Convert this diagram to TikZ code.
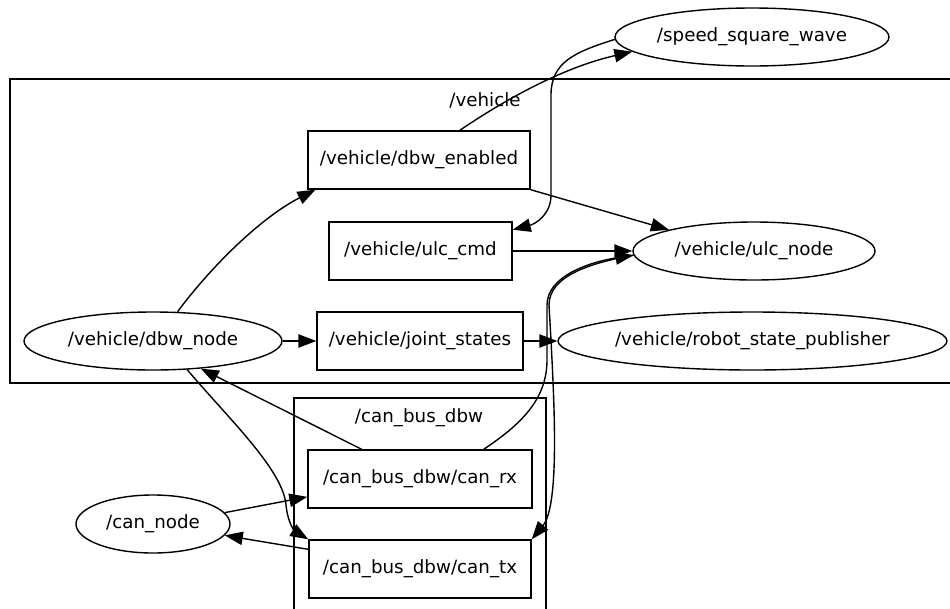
\documentclass[tikz,border=0pt]{standalone}
\usepackage{fontspec}
\setmainfont{DejaVu Sans}
\usetikzlibrary{arrows.meta,shapes.geometric}
\begin{document}
\begin{tikzpicture}[x=0.75pt,y=-0.75pt,
  every node/.style={font=\fontsize{13.7}{16}\selectfont, inner sep=0pt},
  topic/.style={draw, line width=1.05pt, rectangle, minimum height=43.5pt},
  proc/.style={draw, line width=1.05pt, ellipse, minimum height=43.5pt},
  cluster/.style={draw, line width=1.05pt},
  arr/.style={line width=1.05pt, -{Triangle[length=13.5pt,width=10pt]}}
]
\useasboundingbox (0,0) rectangle (950,608);
% clusters
\draw[cluster] (10,79) rectangle (960,383);
\node (vlabel) at (485,100) {/vehicle};
\draw[cluster] (294,398) rectangle (546,625);
\node (clabel) at (419,418) {/can\_bus\_dbw};
% nodes
\node[proc, minimum width=205.5pt] (speed) at (752,37) {/speed\_square\_wave};
\node[topic, minimum width=166.5pt] (dbwen) at (419,160) {/vehicle/dbw\_enabled};
\node[topic, minimum width=137.25pt] (ulccmd) at (420.5,251) {/vehicle/ulc\_cmd};
\node[proc, minimum width=181.5pt] (ulcnode) at (754,251) {/vehicle/ulc\_node};
\node[proc, minimum width=193.5pt] (dbwnode) at (153,341) {/vehicle/dbw\_node};
\node[topic, minimum width=154.5pt] (joint) at (420,341) {/vehicle/joint\_states};
\node[proc, minimum width=291.75pt] (rsp) at (752.5,341) {/vehicle/robot\_state\_publisher};
\node[topic, minimum width=168pt] (canrx) at (420,479) {/can\_bus\_dbw/can\_rx};
\node[topic, minimum width=166.5pt] (cantx) at (420,569) {/can\_bus\_dbw/can\_tx};
\node[proc, minimum width=115.5pt] (cannode) at (153,524) {/can\_node};
% edges
\draw[arr] (dbwen.36.6) .. controls (500,103) and (560,68) .. (speed.187.5);
\draw[arr] (speed.181) .. controls (575,52) and (551,62) .. (551,95) -- (551,195) .. controls (551,215) and (535,224) .. (ulccmd.13);
\draw[arr] (dbwen.south east) -- (ulcnode.166);
\draw[arr] (ulccmd.east) -- (ulcnode.west);
\draw[arr] (dbwnode.50) .. controls (210,268) and (260,218) .. (dbwen.196.6);
\draw[arr] (dbwnode.east) -- (joint.west);
\draw[arr] (joint.east) -- (rsp.west);
\draw[arr] (canrx.153.4) -- (dbwnode.330);
\draw[arr] (canrx.25) .. controls (520,425) and (547,400) .. (547,360) -- (547,305) .. controls (547,276) and (590,262) .. (ulcnode.182);
\draw[arr] (ulcnode.182) .. controls (590,263) and (549,276) .. (549,305) -- (551,340) .. controls (554,400) and (560,505) .. (cantx.north east);
\draw[arr] (dbwnode.320) .. controls (230,420) and (283,470) .. (286,505) .. controls (288,525) and (296,532) .. (cantx.north west);
\draw[arr] (cannode.9.5) -- (canrx.189.6);
\draw[arr] (cantx.170.3) -- (cannode.351);
\end{tikzpicture}
\end{document}
